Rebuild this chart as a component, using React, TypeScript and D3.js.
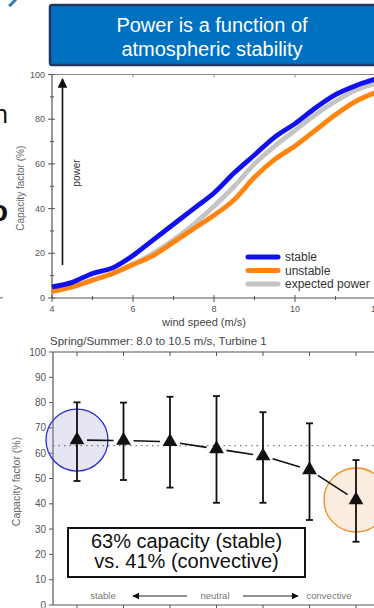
import React from "react";
import * as d3 from "d3";

// ---- Top chart data: capacity factor (%) vs wind speed (m/s)
const windSpeeds = [4, 4.5, 5, 5.5, 6, 6.5, 7, 7.5, 8, 8.5, 9, 9.5, 10, 10.5, 11, 11.5, 12];
const stableCF = [5, 7, 11, 13.5, 19, 26, 33, 40, 47, 56, 64, 72, 78, 85, 91, 95, 98];
const unstableCF = [3, 5, 8, 11, 15, 19, 25, 31, 37, 44, 54, 62, 68, 75, 82, 88, 92];
const expectedCF = [3, 5, 8, 11, 15, 20, 26, 33, 41, 50, 60, 68, 75, 82, 88, 93, 96];
const topXTicks = [4, 6, 8, 10, 12];
const topXMinor = [5, 7, 9, 11];
const topYTicks = [0, 20, 40, 60, 80, 100];
const topYMinor = [10, 30, 50, 70, 90];
const legendItems = [
  { label: "stable", color: "#1010F0" },
  { label: "unstable", color: "#FF8410" },
  { label: "expected power", color: "#C4C4C4" },
];

// ---- Bottom chart data: stability classes
const classes = ["c1", "c2", "c3", "c4", "c5", "c6", "c7"];
const meanCF = [65.2, 65, 64.5, 61.7, 58.9, 53.4, 41.5];
const upperCF = [80.1, 80, 82.3, 82.6, 76.2, 71.8, 57.3];
const lowerCF = [49, 49.4, 46.4, 40.4, 40.4, 33.6, 25];
const referenceCF = 63;
const bottomYTicks = [0, 10, 20, 30, 40, 50, 60, 70, 80, 90, 100];

const FONT = "'Liberation Sans', Arial, Helvetica, sans-serif";

export default function App() {
  // top scales
  const x1 = d3.scaleLinear().domain([4, 12]).range([52, 376]);
  const y1 = d3.scaleLinear().domain([0, 100]).range([298, 74.5]);
  const line1 = (vals: number[]) =>
    d3
      .line<number>()
      .x((_, i) => x1(windSpeeds[i]))
      .y((d) => y1(d))
      .curve(d3.curveMonotoneX)(vals) as string;

  // bottom scales
  const x2 = d3.scalePoint<string>().domain(classes).range([77, 356]);
  const y2 = d3.scaleLinear().domain([0, 100]).range([605, 352]);

  const pts = classes.map((c, i) => ({ x: x2(c) as number, y: y2(meanCF[i]) }));
  const gap = 10;
  const segs = pts.slice(0, -1).map((p, i) => {
    const q = pts[i + 1];
    const dx = q.x - p.x, dy = q.y - p.y;
    const L = Math.hypot(dx, dy);
    return {
      x1: p.x + (dx / L) * gap,
      y1: p.y + (dy / L) * gap,
      x2: q.x - (dx / L) * gap,
      y2: q.y - (dy / L) * gap,
    };
  });
  const tri = d3.symbol().type(d3.symbolTriangle).size(95);

  const axisColor = "#555";
  const labelColor = "#555";

  return (
    <svg
      width={374}
      height={608}
      style={{ position: "absolute", left: 0, top: 0, background: "#fff" }}
      fontFamily={FONT}
    >
      <defs>
        <marker id="ahead" viewBox="0 0 10 10" refX="9" refY="5" markerWidth="6" markerHeight="6" orient="auto-start-reverse">
          <path d="M0,0 L10,5 L0,10 z" fill="#111" />
        </marker>
      </defs>

      {/* left edge cut-off fragments */}
      <path d="M9,6 Q13,3 16,-1" stroke="#2E7BB8" strokeWidth={3} fill="none" />
      <text x={8} y={123} fontSize={25} textAnchor="end" fill="#111">n</text>
      <text x={8} y={221} fontSize={30} fontWeight="bold" textAnchor="end" fill="#111">o</text>
      <rect x={0} y={297} width={3} height={1.5} fill="#999" />

      {/* title box */}
      <rect x={50} y={5} width={330} height={60} fill="#0070C0" stroke="#1F3864" strokeWidth={2.5} rx={2} />
      <text x={212} y={32} fontSize={20} fill="#fff" textAnchor="middle">Power is a function of</text>
      <text x={212} y={56} fontSize={20} fill="#fff" textAnchor="middle">atmospheric stability</text>

      {/* ===== Top chart ===== */}
      <line x1={52} x2={374} y1={y1(100)} y2={y1(100)} stroke="#888" strokeWidth={1} />
      <line x1={52} x2={52} y1={y1(100)} y2={y1(0)} stroke={axisColor} strokeWidth={1.2} />
      <line x1={52} x2={374} y1={y1(0)} y2={y1(0)} stroke={axisColor} strokeWidth={1.2} />
      {topYTicks.map((t) => (
        <g key={"ty" + t}>
          <line x1={48} x2={55} y1={y1(t)} y2={y1(t)} stroke={axisColor} />
          <text x={45} y={y1(t) + 3} fontSize={9} textAnchor="end" fill={labelColor}>{t}</text>
        </g>
      ))}
      {topYMinor.map((t) => (
        <line key={"tym" + t} x1={50} x2={54} y1={y1(t)} y2={y1(t)} stroke={axisColor} />
      ))}
      {topXTicks.map((t) => (
        <g key={"tx" + t}>
          <line x1={x1(t)} x2={x1(t)} y1={y1(0) - 3} y2={y1(0) + 4} stroke={axisColor} />
          <line x1={x1(t)} x2={x1(t)} y1={y1(100)} y2={y1(100) + 3} stroke="#888" />
          <text x={x1(t)} y={y1(0) + 14} fontSize={9} textAnchor="middle" fill={labelColor}>{t}</text>
        </g>
      ))}
      {topXMinor.map((t) => (
        <line key={"txm" + t} x1={x1(t)} x2={x1(t)} y1={y1(0) - 2} y2={y1(0) + 2} stroke={axisColor} />
      ))}
      <text x={204} y={326} fontSize={11} textAnchor="middle" fill="#444">wind speed (m/s)</text>
      <text
        transform={`translate(24,${(y1(0) + y1(100)) / 2 + 2}) rotate(-90)`}
        fontSize={10}
        textAnchor="middle"
        fill="#666"
      >
        Capacity factor (%)
      </text>

      {/* power arrow */}
      <line x1={62.5} x2={62.5} y1={265} y2={79} stroke="#111" strokeWidth={1.6} markerEnd="url(#ahead)" />
      <text transform="translate(80,173) rotate(-90)" fontSize={10} textAnchor="middle" fill="#333">power</text>

      {/* curves */}
      <path d={line1(expectedCF)} fill="none" stroke="#C4C4C4" strokeWidth={4.8} strokeLinejoin="round" />
      <path d={line1(unstableCF)} fill="none" stroke="#FF8410" strokeWidth={4.8} strokeLinejoin="round" />
      <path d={line1(stableCF)} fill="none" stroke="#1010F0" strokeWidth={4.8} strokeLinejoin="round" />

      {/* legend */}
      {legendItems.map((d, i) => (
        <g key={d.label} transform={`translate(0,${257 + i * 13.5})`}>
          <line x1={248} x2={278} y1={0} y2={0} stroke={d.color} strokeWidth={5} strokeLinecap="round" />
          <text x={285} y={4} fontSize={12} fill="#333">{d.label}</text>
        </g>
      ))}

      {/* ===== Bottom chart ===== */}
      <text x={50} y={345} fontSize={11.5} fill="#444">Spring/Summer: 8.0 to 10.5 m/s, Turbine 1</text>
      <line x1={53} x2={374} y1={y2(100)} y2={y2(100)} stroke={axisColor} strokeWidth={1.2} />
      <line x1={53} x2={53} y1={y2(100)} y2={y2(0)} stroke={axisColor} strokeWidth={1.2} />
      <line x1={53} x2={374} y1={y2(0)} y2={y2(0)} stroke={axisColor} strokeWidth={1.2} />
      {bottomYTicks.map((t) => (
        <g key={"by" + t}>
          <line x1={49} x2={53} y1={y2(t)} y2={y2(t)} stroke={axisColor} />
          <text x={46} y={y2(t) + 3.5} fontSize={10} textAnchor="end" fill={labelColor}>{t}</text>
        </g>
      ))}
      {classes.map((c) => (
        <g key={"bx" + c}>
          <line x1={x2(c)} x2={x2(c)} y1={y2(100)} y2={y2(100) + 4} stroke={axisColor} />
          <line x1={x2(c)} x2={x2(c)} y1={y2(0)} y2={y2(0) + 4} stroke={axisColor} />
        </g>
      ))}
      <text
        transform={`translate(20,${(y2(0) + y2(100)) / 2 + 3}) rotate(-90)`}
        fontSize={10.5}
        textAnchor="middle"
        fill="#666"
      >
        Capacity factor (%)
      </text>

      {/* highlight circles */}
      <circle cx={x2("c1")} cy={y2(meanCF[0])} r={31} fill="rgba(160,160,215,0.28)" stroke="#2A2AD8" strokeWidth={1.3} />
      <circle cx={x2("c7")} cy={y2(meanCF[6])} r={32} fill="rgba(240,200,160,0.35)" stroke="#F08C1E" strokeWidth={1.3} />

      {/* reference dotted line */}
      <line x1={53} x2={374} y1={y2(referenceCF)} y2={y2(referenceCF)} stroke="#777" strokeWidth={1.3} strokeDasharray="1.5,4" />

      {/* error bars */}
      {classes.map((c, i) => {
        const cx = x2(c) as number;
        return (
          <g key={"eb" + c} stroke="#111" strokeWidth={1.8}>
            <line x1={cx} x2={cx} y1={y2(upperCF[i])} y2={y2(lowerCF[i])} />
            <line x1={cx - 3.5} x2={cx + 3.5} y1={y2(upperCF[i])} y2={y2(upperCF[i])} />
            <line x1={cx - 3.5} x2={cx + 3.5} y1={y2(lowerCF[i])} y2={y2(lowerCF[i])} />
          </g>
        );
      })}

      {/* connecting line */}
      {segs.map((s, i) => (
        <line key={"sg" + i} x1={s.x1} y1={s.y1} x2={s.x2} y2={s.y2} stroke="#111" strokeWidth={1.6} />
      ))}

      {/* triangles */}
      {pts.map((p, i) => (
        <path key={"tr" + i} d={tri() as string} transform={`translate(${p.x},${p.y})`} fill="#111" />
      ))}

      {/* annotation box */}
      <rect x={68} y={528} width={237} height={49} fill="#fff" stroke="#111" strokeWidth={2} />
      <text x={186.5} y={548} fontSize={20} textAnchor="middle" fill="#111">63% capacity (stable)</text>
      <text x={186.5} y={568} fontSize={20} textAnchor="middle" fill="#111">vs. 41% (convective)</text>

      {/* stability direction labels */}
      <text x={103} y={599} fontSize={9.5} textAnchor="middle" fill="#777">stable</text>
      <line x1={187} x2={133} y1={596} y2={596} stroke="#222" strokeWidth={1.2} markerEnd="url(#ahead)" />
      <text x={215} y={599} fontSize={9.5} textAnchor="middle" fill="#777">neutral</text>
      <line x1={243} x2={298} y1={596} y2={596} stroke="#222" strokeWidth={1.2} markerEnd="url(#ahead)" />
      <text x={329} y={599} fontSize={9.5} textAnchor="middle" fill="#777">convective</text>
    </svg>
  );
}
